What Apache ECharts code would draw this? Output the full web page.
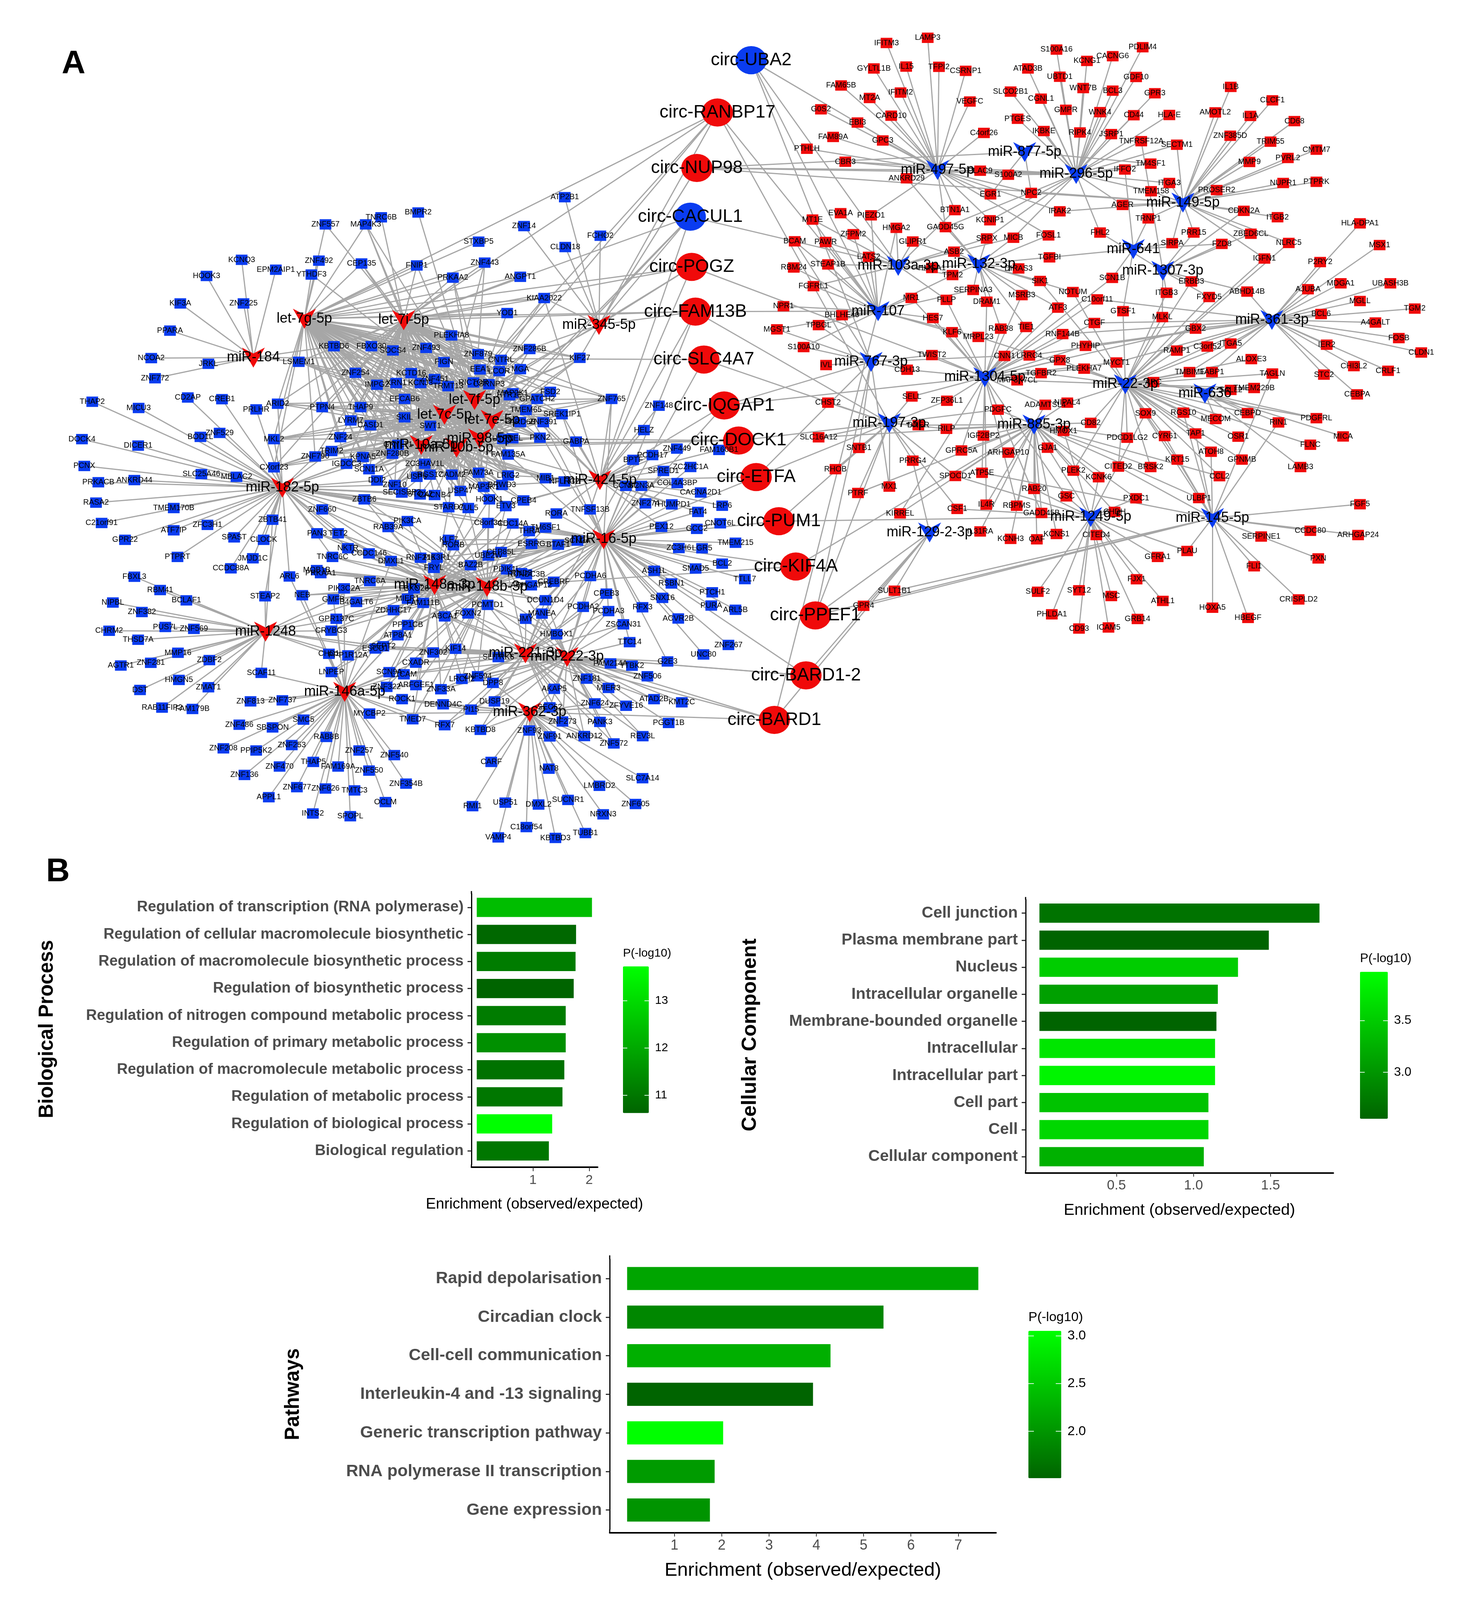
<!DOCTYPE html>
<html><head><meta charset="utf-8">
<style>html,body{margin:0;padding:0;background:#fff;overflow:hidden}#c{width:3761px}</style>
<script src="https://cdn.jsdelivr.net/npm/echarts@6/dist/echarts.min.js"></script>
</head><body><div id="c"></div>
<script>
// ---------- panel B data ----------
const bpCats=["Regulation of transcription (RNA polymerase)","Regulation of cellular macromolecule biosynthetic","Regulation of macromolecule biosynthetic process","Regulation of biosynthetic process","Regulation of nitrogen compound metabolic process","Regulation of primary metabolic process","Regulation of macromolecule metabolic process","Regulation of metabolic process","Regulation of biological process","Biological regulation"];
const bpEnrich=[2.05,1.767,1.758,1.725,1.583,1.583,1.558,1.525,1.342,1.283];
const bpP=[12.4,10.7,11.1,10.62,11.1,11.5,10.9,11.0,13.73,11.0];
const ccCats=["Cell junction","Plasma membrane part","Nucleus","Intracellular organelle","Membrane-bounded organelle","Intracellular","Intracellular part","Cell part","Cell","Cellular component"];
const ccEnrich=[1.818,1.489,1.289,1.158,1.149,1.14,1.14,1.097,1.097,1.067];
const ccP=[2.69,2.55,3.51,3.1,2.55,3.74,3.88,3.42,3.6,3.26];
const pwCats=["Rapid depolarisation","Circadian clock","Cell-cell communication","Interleukin-4 and -13 signaling","Generic transcription pathway","RNA polymerase II transcription","Gene expression"];
const pwEnrich=[7.425,5.42,4.3,3.93,2.03,1.85,1.75];
const pwP=[2.16,1.86,2.26,1.51,3.05,2.06,1.99];

// ---------- panel A: reading frames (x0,y0,w,h of the crop each list was read from; crop is 1568 units square) ----------
const frames={Z1:[0,0,1880,1200],Z2:[0,1200,1880,1150],Z3:[1880,0,1880,1000],Z4:[1880,900,1880,900],Z8:[700,950,784,560],Z9:[1300,950,784,560],Z10:[700,1500,784,560],Z11:[1300,1500,784,560]};
// "frame name x y code"
const redHubs=["Z1 let-7g-5p 650 1125 a","Z1 let-7i-5p 862 1130 b","Z8 let-7f-5p 1030 365 c","Z8 let-7c-5p 876 477 d","Z8 let-7e-5p 1120 515 e","Z8 miR-98-5p 1056 657 f","Z8 miR-10a-5p 757 706 g","Z8 miR-10b-5p 938 725 h","Z1 miR-184 541 1262 i","Z2 miR-182-5p 603 160 j","Z2 miR-1248 567 690 k","Z2 miR-146a-5p 736 912 l","Z2 miR-362-3p 1131 987 m","Z1 miR-345-5p 1279 1147 n","Z2 miR-148a-3p 928 518 o","Z2 miR-148b-3p 1040 525 p","Z2 miR-424-5p 1281 132 q","Z2 miR-16-5p 1289 350 r","Z2 miR-221-3p 1122 770 s","Z2 miR-222-3p 1211 783 t"];
const blueHubs=["Z3 miR-497-5p 434 720 u","Z3 miR-296-5p 730 737 v","Z3 miR-877-5p 620 644 w","Z3 miR-149-5p 958 858 x","Z3 miR-641 852 1055 y","Z3 miR-1307-3p 915 1147 z","Z3 miR-103a-3p 350 1126 A","Z3 miR-132-3p 522 1118 B","Z3 miR-107 307 1318 D","Z4 miR-767-3p 292 135 E","Z4 miR-1304-5p 535 207 G","Z4 miR-22-3p 835 240 H","Z4 miR-636 1005 284 I","Z3 miR-361-3p 1148 1355 J","Z4 miR-197-3p 331 423 K","Z4 miR-885-3p 640 430 M","Z4 miR-1249-5p 761 865 N","Z4 miR-145-5p 1021 870 O","Z4 miR-129-2-3p 417 938 P"];
// group shorthands: 1 let-7 family, 2 miR-10, 3 miR-148, 4 miR-424/16, 5 miR-221/222
const hubGroups={1:"abcdef",2:"gh",3:"op",4:"qr",5:"st"};
const redCircs=["Z1 circ-RANBP17 1532 397 abcdnDK","Z1 circ-NUP98 1488 593 uvwxn","Z1 circ-POGZ 1477 942 abncqG","Z1 circ-FAM13B 1485 1100 abnrqKD","Z1 circ-SLC4A7 1503 1269 iKr","Z9 circ-IQGAP1 1108 407 qrEG","Z9 circ-DOCK1 1182 672 fghK","Z9 circ-ETFA 1272 948 qErK","Z9 circ-PUM1 1388 1282 rNK","Z11 circ-KIF4A 1475 85 pMr","Z11 circ-PPEF1 1575 455 POKE","Z11 circ-BARD1-2 1527 908 strP","Z11 circ-BARD1 1365 1245 stmPD"];
const blueCircs=["Z3 circ-UBA2 36 255 uADE","Z1 circ-CACUL1 1474 765 nfebAq"];
const blueGenes=[
"Z1 ATP2B1 1206 696 n","Z1 BMPR2 893 750 c","Z1 TNRC6B 814 767 b","Z1 ZNF557 695 792 ab","Z1 MAP4K3 781 792 abcd","Z1 ZNF14 1119 798 n","Z1 FCHO2 1282 832 n","Z1 STXBP5 1022 853 a","Z1 CLDN18 1207 872 n","Z1 KCNQ3 516 917 i","Z1 ZNF492 681 920 a","Z1 EPM2AIP1 589 952 i","Z1 CEP135 772 930 abf","Z1 FNIP1 890 937 abc","Z1 ZNF443 1035 927 abcd","Z1 YTHDF3 665 969 ac","Z1 HOOK3 441 974 i","Z1 PRKAA2 967 980 abce","Z1 ANGPT1 1111 977 ab","Z1 KIAA2022 1162 1052 abcdqn","Z1 KIF3A 385 1071 i","Z1 ZNF225 520 1071 i","Z1 YOD1 1083 1105 abc","Z1 PPARA 363 1167 i","Z1 PLEKHA8 964 1184 1","Z1 KBTBD6 713 1222 i1","Z1 FBXO30 793 1222 1","Z1 SOCS4 839 1237 1","Z1 ZNF493 910 1228 1","Z1 ZNF286B 1131 1232 1n","Z1 ZNF879 1021 1250 1","Z1 NCOA2 323 1264 i","Z1 CNTRL 1070 1270 1","Z1 KIF27 1238 1263 1n","Z1 FIGN 948 1278 1","Z1 JRKL 445 1284 i","Z1 LSMEM1 638 1277 i1","Z1 ZNF772 331 1335 i","Z1 MGA 1111 1303 1n","Z1 EEA1 1025 1304 1","Z1 LCOR 1066 1310 1","Z1 ZNF254 759 1316 1","Z1 KCTD16 878 1317 1","Z1 ZNF451 928 1338 1","Z1 KCNJ3 898 1352 1","Z1 XRN1 846 1352 1","Z1 IMPG2 805 1358 1","Z1 TRMT13 957 1363 1","Z1 RICTOR 1011 1350 1","Z1 CSRNP3 1044 1356 1","Z1 MAP2K1 1095 1388 1","Z1 HTR1E 1088 1395 1","Z1 FSD2 1175 1383 1","Z1 GPATCH2 1147 1408 1","Z1 ZNF765 1306 1408 14","Z1 CD2AP 401 1403 j","Z1 CREB1 474 1409 j","Z1 THAP2 197 1418 j","Z1 MICU3 296 1440 j","Z1 PRLHR 547 1445 j","Z1 ARID2 593 1425 j1","Z1 PTPN4 688 1437 1","Z1 THAP9 770 1437 1","Z1 EFCAB6 864 1408 1","Z1 ZNF148 1407 1432 q","Z1 TMEM65 1123 1447 14","Z1 SREK1IP1 1200 1462 14","Z1 SKIL 864 1473 1","Z1 LYRM7 749 1484 1","Z1 CASD1 791 1501 1","Z1 SWT1 919 1503 1","Z1 PARD6B 1111 1490 12","Z1 ZNF391 1160 1490 14","Z1 HELZ 1375 1518 q","Z1 PKN2 1153 1545 12","Z1 ZNF529 469 1528 j","Z1 BOD1L 428 1542 j","Z1 MKL2 585 1550 j1","Z1 ZNF24 727 1543 12","Z1 DOCK4 175 1550 j",
"Z8 UTRN 1175 660 12","Z8 PCEL 1225 655 12","Z8 GXYLT1 638 705 12","Z9 GABPA 350 680 2q","Z9 ZNF449 866 733 q","Z9 FAM160B1 1082 743 q","Z9 PCDH17 741 782 q","Z9 BPTF 642 818 qs","Z9 ZC2HC1A 936 872 r","Z9 SPRED1 797 902 qr","Z9 COL4A3BP 868 994 q","Z9 CCNT2 605 1015 4","Z9 SCN3A 684 1015 4","Z9 CACNA2D1 988 1065 q","Z9 ZNF274 705 1147 4","Z9 THUMPD1 840 1155 4","Z9 LRP6 1098 1165 q","Z9 FAT4 974 1212 4","Z9 CNOT6L 1088 1298 r","Z9 PEX12 787 1325 4","Z9 GCC2 968 1340 r","Z9 TMEM215 1166 1445 r","Z9 ZC3H6 876 1485 r","Z9 LGR5 995 1487 r",
"Z2 TRIM2 708 25 j2","Z2 ZNF790 673 45 j1","Z2 KPNA5 775 47 j12","Z2 IGDCC3 740 72 j1","Z2 ZNF280B 838 35 j12","Z2 FAM135A 1085 38 124","Z2 DICER1 295 5 j","Z2 PCNX 180 80 j","Z2 CXorf23 585 85 j1","Z2 SCN11A 788 92 12","Z2 ZC3HAV1L 907 72 12","Z2 SLC25A46 430 110 j","Z2 MBLAC2 505 120 j","Z2 FAM73A 1022 105 12","Z2 LRIG2 1085 115 12q","Z2 CADM2 965 112 12","Z2 RGS17 918 112 12","Z2 USP6 890 120 12","Z2 PRKACB 210 140 j","Z2 ANKRD44 287 132 j","Z2 DDI2 805 133 j2","Z2 MIB1 1165 125 q2","Z2 NFLRC2 1205 137 q2","Z2 ZNF10 843 150 j12","Z2 BRWD3 1072 150 q2","Z2 MAP3K1 1033 157 12","Z2 USP47 983 172 12","Z2 SECISBP2 858 178 j2","Z2 STOX2 897 185 j2","Z2 CACNB4 928 187 j2","Z2 ZBTB6 778 203 j3","Z2 HOOK1 1045 203 23","Z2 CPEB4 1118 207 q2","Z2 RASA2 205 215 j","Z2 TMEM170B 371 235 j","Z2 ZNF660 688 240 j3","Z2 STARD7 958 232 j23","Z2 CUL5 1000 235 j23","Z2 ETV3 1080 228 q23","Z2 RORA 1188 255 4","Z2 TNFSF13B 1260 240 4","Z2 ZBTB41 582 278 jk","Z2 C21orf91 217 290 j","Z2 PIK3CA 870 283 j3","Z2 ATF7IP 371 317 j","Z2 ZFC3H1 443 297 j","Z2 RAB39A 829 305 j3","Z2 C8orf34 1042 290 j3r","Z2 CDC14A 1095 292 j3r","Z2 TM6SF1 1165 307 r3","Z2 THRA 1130 320 r3","Z2 SPAST 500 343 j","Z2 GPR22 267 352 j","Z2 CLOCK 563 352 j","Z2 PAN3 677 328 j3","Z2 TET2 722 328 j3","Z2 KLF7 958 352 3r","Z2 RORB 968 372 3r","Z2 ESRRG 1135 367 r3","Z2 BTAF1 1192 370 r3","Z2 SCN2A 1233 355 r3","Z2 NKTR 743 383 j3","Z2 CCDC146 788 402 3j","Z2 PTPRT 379 415 j","Z2 JMJD1C 540 420 j","Z2 TNRC6C 710 415 j3","Z2 DMXL1 835 430 3l","Z2 RNF216 898 418 3","Z2 PIK3R1 933 418 3r","Z2 UBE2W 1043 410 3r","Z2 CEP85L 1070 397 3r","Z2 CCDC88A 493 457 j",
"Z10 FRYL 822 95 3r","Z10 BAZ2B 1010 75 3r","Z10 PDIK1L 1195 107 3r5","Z10 RUNDC3B 1295 145 3r","Z10 RND3 1270 135 3r","Z10 ARL6 82 160 jl","Z10 MOB1B 222 112 3","Z10 PRKAA1 242 135 3","Z10 TNRC6A 494 195 3k","Z10 CREBRF 1435 200 3r","Z10 ARHGAP12 1320 227 3r","Z10 PIK3C2A 362 250 3l","Z10 FBXO28 720 250 3","Z10 NEB 148 302 3l","Z10 GMFB 307 333 3l","Z10 B4GALT6 425 353 3k","Z10 MIER1 687 328 3l","Z10 FAM111B 767 360 3s","Z10 DCUN1D4 1393 340 3r5","Z10 PCMTD1 1097 375 35","Z10 ZDHHC17 615 415 3k","Z10 ABCA1 877 462 35","Z10 FOXN2 997 440 35","Z10 MANEA 1375 441 r5","Z10 JMY 1292 480 r5","Z10 GPR137C 322 480 3l","Z10 PPP1CB 688 527 3l","Z10 CRYBG3 296 570 k3","Z10 ATP8A1 637 605 3l","Z10 HMBOX1 1450 597 3r5","Z10 ESCO1 522 705 k5","Z10 SEPT2 563 688 k5","Z10 CHD1 284 745 kl","Z10 PPP1R12A 382 757 kl3","Z10 ZNF302 818 735 k5","Z10 KIF14 933 707 s3","Z10 SLITRK6 1152 770 5","Z10 CXADR 729 812 l5","Z10 LNPEP 297 883 l3","Z10 SCN9A 593 884 l3","Z10 L1CAM 668 900 l5","Z10 ZNF594 1046 915 53","Z10 LRCH2 965 935 53","Z10 DPP8 1124 965 5m","Z10 ZNF322 580 995 l3","Z10 ARFGEF1 730 982 l3","Z10 ZNF33A 858 1013 35","Z10 AKAP5 1438 1010 5m","Z10 ROCK1 659 1088 lm","Z10 DENND4C 869 1127 lm","Z10 DUSP19 1132 1105 5m","Z10 PI15 1012 1167 lm5","Z10 MYCBP2 492 1197 lm","Z10 TMED7 713 1240 3l","Z10 RFX7 877 1285 l5","Z10 SMC5 154 1243 l","Z10 KBTBD8 1060 1320 m5","Z10 ZNF93 1310 1325 m","Z10 ZNF737 46 1097 l",
"Z11 PCDHA6 423 157 r5","Z11 ASH1L 750 117 r","Z11 SMAD5 962 100 r","Z11 BCL2 1098 63 r","Z11 TTLL7 1214 180 r","Z11 RSBN1 838 213 r","Z11 PTCH1 1047 280 r","Z11 CPEB3 505 290 r5","Z11 SNX16 792 322 r","Z11 PCDHA2 386 390 r5","Z11 PCDHA3 516 422 r5","Z11 RFX3 690 393 r","Z11 PURA 1042 380 r","Z11 ARL5B 1166 412 r","Z11 ACVR2B 873 478 r","Z11 ZSCAN31 592 522 r5","Z11 TTC14 624 657 rt","Z11 ZNF267 1130 678 r","Z11 UNC80 1002 750 r","Z11 G2E3 818 803 rt","Z11 FAM214A 526 818 5","Z11 TTBK2 636 835 5","Z11 ZNF506 715 915 5","Z11 ZNF181 404 933 5","Z11 MIER3 516 1003 5","Z11 ATAD2B 749 1088 5","Z11 KMT2C 891 1112 t","Z11 ZNF624 446 1120 5m","Z11 ZFYVE16 606 1138 tm","Z11 SEC62 215 1150 5m","Z11 ZNF273 280 1257 m5","Z11 PANK3 472 1260 5","Z11 PGGT1B 824 1268 t","Z11 ANKRD12 392 1367 m5","Z11 REV3L 691 1368 5","Z11 ZNF91 215 1370 m","Z11 ZNF572 543 1423 5m",
"Z2 FBXL3 287 488 k","Z2 RBM41 342 537 k","Z2 NIPBL 241 583 k","Z2 BCLAF1 398 575 k","Z2 STEAP2 566 560 kj","Z2 ZNF382 303 618 k","Z2 PUS7L 353 673 k","Z2 ZNF569 414 680 k","Z2 CHRM2 233 687 k","Z2 THSD7A 295 720 k","Z2 MMP16 380 768 k","Z2 ZDBF2 447 795 k","Z2 AGTR1 258 815 k","Z2 ZNF281 322 805 k","Z2 HMGN5 382 868 k","Z2 DST 299 905 k","Z2 ZMAT1 445 895 k","Z2 SCAF11 558 842 kl","Z2 RAB11FIP2 346 970 k","Z2 FAM179B 411 975 k","Z2 ZNF813 535 947 l","Z2 ZNF486 511 1033 l","Z2 SBSPON 582 1043 l","Z2 ZNF208 477 1120 l","Z2 PPIP5K2 547 1128 l","Z2 ZNF253 623 1108 l","Z2 RAB8B 697 1078 l","Z2 ZNF257 767 1128 l","Z2 ZNF540 842 1145 l","Z2 ZNF470 597 1187 l","Z2 THAP5 669 1170 l","Z2 FAM169A 722 1187 l","Z2 ZNF550 788 1202 l","Z2 ZNF136 522 1218 l","Z2 ZNF677 634 1263 l","Z2 ZNF626 695 1268 l","Z2 TMTC3 757 1275 l","Z2 ZNF354B 867 1250 l","Z2 APPL1 574 1300 l","Z2 OCLM 823 1318 l","Z2 INTS2 668 1360 l","Z2 SPOPL 748 1370 l",
"Z2 CARF 1049 1170 m","Z2 NAT8 1172 1195 m","Z2 SLC7A14 1372 1230 m","Z2 LMBRD2 1280 1258 m","Z2 RMI1 1009 1333 m","Z2 USP51 1079 1320 m","Z2 DMXL2 1150 1327 m","Z2 SUCNR1 1213 1310 m","Z2 ZNF605 1357 1325 m","Z2 NRXN3 1288 1363 m","Z2 C18orf54 1124 1410 m","Z2 VAMP4 1064 1448 m","Z2 KBTBD3 1186 1450 m","Z2 TUBB1 1250 1432 m"];
const redGenes=[
"Z3 LAMP3 413 160 u","Z3 IFITM3 325 182 u","Z3 PDLIM4 872 200 v","Z3 S100A16 688 210 v","Z3 CACNG6 808 238 v","Z3 KCNG1 753 258 v","Z3 GYLTL1B 298 290 u","Z3 IL15 367 282 u","Z3 TFPI2 437 283 u","Z3 CSRNP1 494 300 u","Z3 ATAD3B 627 290 v","Z3 UBTD1 695 325 v","Z3 GDF10 858 326 v","Z3 FAM65B 228 362 u","Z3 IFITM2 355 392 u","Z3 MT2A 289 415 u","Z3 SLCO2B1 590 388 v","Z3 WNT7B 745 373 v","Z3 BCL3 808 384 v","Z3 GPR3 898 395 v","Z3 CGNL1 655 418 v","Z3 VEGFC 503 430 u","Z3 IL1B 1060 368 x","Z3 CLCF1 1149 425 x","Z3 G0S2 185 463 u","Z3 CARD10 335 490 u","Z3 EBI3 263 519 u","Z3 GMPR 708 465 v","Z3 WNK4 781 475 v","Z3 CD44 853 488 v","Z3 HLA-E 929 487 v","Z3 AMOTL2 1027 476 x","Z3 IL1A 1102 491 x","Z3 CD68 1196 513 x","Z3 PTGES 605 503 v","Z3 IKBKE 661 555 v","Z3 RIPK4 738 561 v","Z3 JSRP1 805 568 v","Z3 C4orf26 533 563 u","Z3 ZNF385D 1059 575 x","Z3 FAM89A 211 580 u","Z3 GPC3 317 595 u","Z3 TRIM55 1145 600 x","Z3 TNFRSF12A 869 598 vz","Z3 SECTM1 945 613 vx","Z3 CMTM7 1243 634 x","Z3 PTHLH 155 630 u","Z3 CBR3 237 685 uv","Z3 TM4SF1 889 693 wv","Z3 MMP9 1100 686 x","Z3 PVRL2 1182 669 x","Z3 PLAC9 525 723 uv","Z3 S100A2 585 740 uv","Z3 IFFO2 834 718 vy","Z3 ANKRD29 368 755 uB","Z3 ITGA3 929 775 vx","Z3 NUPR1 1172 775 x","Z3 PTPRK 1243 770 x","Z3 PROSER2 1030 805 x","Z3 EGR1 547 823 uw","Z3 NPC2 634 817 uwx","Z3 TMEM158 890 810 xv","Z3 AGER 829 868 vx","Z3 CDKN2A 1088 893 xz","Z3 IRAK2 695 895 xu","Z3 BTN1A1 471 890 uA","Z3 ITGB2 1160 920 x","Z3 EVA1A 227 903 A","Z3 PIEZO1 292 912 uD","Z3 MT1E 167 930 AD","Z3 KCNIP1 546 933 uv","Z3 TRNP1 884 925 xy","Z3 HLA-DPA1 1336 946 J","Z3 HMGA2 346 965 AD","Z3 GADD45G 451 962 uvB","Z3 BCAM 129 1022 DE","Z3 PAWR 195 1025 AD","Z3 ZFPM2 254 992 D","Z3 GLIPR1 381 1023 AB","Z3 SRPX 539 1010 AvB","Z3 MICB 596 1007 AvB","Z3 FOSL1 671 997 uB","Z3 FHL2 781 985 vz","Z3 PRR15 981 985 xz","Z3 ZBED6CL 1103 990 xz","Z3 SIRPA 935 1030 yx","Z3 FZD8 1041 1033 yz","Z3 NLRC5 1184 1029 xH","Z3 MSX1 1378 1038 J","Z3 LATS2 287 1088 AD","Z3 ASB2 469 1066 AB","Z3 TGFBI 673 1090 yB","Z3 IGFN1 1132 1095 xH","Z3 P2RY2 1251 1110 J","Z3 RBM24 127 1133 D","Z3 STEAP1B 200 1120 DA","Z3 DIRAS3 607 1137 B","Z3 HMGA1 422 1135 AB","Z3 TPM2 466 1165 ABD","Z3 SIK1 653 1190 BH","Z3 ERBB3 976 1192 zH","Z3 SCN1B 807 1177 yG","Z3 MDGA1 1295 1200 J","Z3 UBASH3B 1401 1200 J","Z3 AJUBA 1225 1225 J","Z3 FGFRL1 169 1212 DA","Z3 SERPINA3 510 1228 DB","Z3 MSRB3 614 1250 BG","Z3 NOTUM 723 1237 BH","Z3 ITGB3 923 1240 zH","Z3 ABHD14B 1095 1235 Jz","Z3 C10orf11 775 1268 JG","Z3 FXYD5 1014 1258 zH","Z3 MGLL 1336 1275 J","Z3 NPR1 105 1297 D","Z3 MR1 378 1262 DG","Z3 PLLP 453 1270 GA","Z3 DRAM1 539 1278 GB","Z3 ATF3 691 1303 BG","Z3 GTSF1 830 1318 yH","Z3 TGM2 1453 1307 J","Z3 BCL6 1253 1330 J","Z3 BHLHE40 230 1335 D","Z3 HES7 424 1347 DG","Z3 MLKL 914 1343 zH","Z3 CTGF 769 1368 JG","Z3 TPBGL 180 1377 DE","Z3 A4GALT 1369 1366 J","Z3 GBX2 985 1392 JG","Z3 MGST1 91 1395 DE","Z3 TIE1 623 1385 BG","Z3 RAB38 569 1392 BG","Z3 KLF6 465 1407 DG","Z3 MRPL23 521 1427 DH","Z3 RNF144B 701 1415 GJ","Z3 FOSB 1419 1432 J","Z3 S100A10 148 1470 DE","Z3 PHYHIP 750 1465 JG","Z3 ITGA5 1060 1455 JH","Z3 IER2 1265 1460 J","Z3 RAMP1 945 1485 HJ","Z3 C3orf52 1010 1468 HJ","Z3 CLDN1 1467 1493 J",
"Z4 ALOXE3 1104 122 H","Z4 CHI3L2 1323 155 J","Z4 CRLF1 1396 177 J","Z4 TWIST2 422 103 EG","Z4 CNN1 577 107 EG","Z4 LRRC4 630 105 GJ","Z4 GPX8 695 127 HG","Z4 MYCT1 816 138 GJ","Z4 PLEKHA7 747 167 GH","Z4 IVL 196 150 E","Z4 CDH13 369 172 EG","Z4 TGFBR2 655 188 GH","Z4 TMBIM1 972 183 HJ","Z4 FABP1 1020 183 HJ","Z4 TAGLN 1149 190 HO","Z4 STC2 1259 195 J","Z4 MAP3K7CL 604 222 GH","Z4 ARC 895 230 HI","Z4 SALL2 1060 267 HI","Z4 TMEM229B 1110 258 HI","Z4 CEBPA 1330 288 J","Z4 SELL 379 298 KG","Z4 ZFP36L1 454 318 GK","Z4 CHST2 200 327 K","Z4 ADAMTSL4 664 337 GM","Z4 NIPAL4 711 327 HM","Z4 PDGFC 563 360 GKM","Z4 SOX9 878 377 HN","Z4 RGS10 959 374 HO","Z4 MECOM 1028 404 HI","Z4 CEBPD 1096 376 HI","Z4 PDGFRL 1243 400 HI","Z4 RIN1 1162 420 IO","Z4 CD82 761 422 MH","Z4 DNER 393 433 KM","Z4 RILP 453 450 KM","Z4 HMOX1 703 460 MN","Z4 IGF2BP2 532 482 MG","Z4 SLC16A12 180 490 KM","Z4 PDCD1LG2 839 492 HM","Z4 CYR61 919 484 HO","Z4 TAP1 985 472 HO","Z4 OSR1 1076 487 H","Z4 MICA 1300 486 I","Z4 SNTB1 266 540 KE","Z4 GPRC5A 485 552 MG","Z4 ARHGAP10 585 562 M","Z4 GJA1 669 539 MN","Z4 ATOH8 1018 558 HO","Z4 FLNC 1230 525 H","Z4 PRRG4 381 600 KP","Z4 KRT15 946 595 HO","Z4 GPNMB 1084 595 H","Z4 BRSK2 889 630 HM","Z4 CITED2 820 628 HO","Z4 PLEK2 724 647 MH","Z4 LAMB3 1209 630 I","Z4 ATP5E 529 657 GO","Z4 SPOCD1 472 672 KNM","Z4 KCNK6 778 678 MN","Z4 CCL2 1036 673 HM","Z4 MX1 331 722 KE","Z4 RAB20 640 733 MN","Z4 PTRF 264 752 MK","Z4 RHOB 216 640 K","Z4 GSC 709 768 NG","Z4 PXDC1 858 777 MN","Z4 ULBP1 992 776 HMO","Z4 CSF1 476 827 KN","Z4 IL4R 538 807 MG","Z4 RBPMS 603 812 MG","Z4 GADD45B 656 846 MG","Z4 CHDH 812 841 NM","Z4 KIRREL 354 848 MG","Z4 FGF5 1336 805 O","Z4 CCDC80 1230 930 O","Z4 ARHGAP24 1332 950 O","Z4 SERPINE1 1125 957 O","Z4 CITED4 773 950 N","Z4 IL31RA 525 933 M","Z4 KCNS1 688 945 M","Z4 KCNH3 590 968 M","Z4 OAF 646 970 M","Z4 PXN 1247 1060 O","Z4 PLAU 967 1025 NO","Z4 GFRA1 904 1053 N","Z4 FLI1 1110 1097 O","Z4 FJX1 859 1158 N","Z4 SULT1B1 342 1212 PO","Z4 CRISPLD2 1205 1253 O","Z4 SULF2 648 1217 N","Z4 SYT12 736 1210 N","Z4 MSC 805 1237 N","Z4 ATHL1 915 1260 N","Z4 GPR4 276 1283 PO","Z4 HOXA5 1021 1292 O","Z4 PHLDA1 678 1323 N","Z4 HBEGF 1097 1340 O","Z4 GRB14 861 1345 N","Z4 CD93 736 1390 N","Z4 ICAM5 799 1385 N"];

// ---------- layout: the window may be shorter than the 4322 design height, keep all panels visible ----------
const DESIGN_H=4322;
const H=Math.min(window.innerHeight||DESIGN_H,DESIGN_H), KY=H/DESIGN_H;
document.getElementById('c').style.height=H+'px';

// ---------- build graph ----------
const RED='#f00a0a',BLUE='#0a3cf0',GREY='#a6a6a6',FONT='"Liberation Sans",Arial,sans-serif';
const ARROW='path://M0 0L29.5 16L59 0L29.5 54Z';
const nodes=[],links=[],hubId={};
function parse(s){const p=s.split(' ');const f=frames[p[0]];return {name:p[1],x:f[0]+(+p[2])*f[2]/1568,y:f[1]+(+p[3])*f[3]/1568,code:p[4]};}
function add(list,kind,color){list.forEach(s=>{const n=parse(s),id='n'+nodes.length;
  const st={gene:{symbol:'rect',symbolSize:[30,28*KY],font:20},hub:{symbol:ARROW,symbolSize:[59,54*KY],font:36},circ:{symbol:'circle',symbolSize:[80,76*KY],font:46}}[kind];
  nodes.push({id,name:n.name,value:[n.x,n.y],symbol:st.symbol,symbolSize:st.symbolSize,itemStyle:{color,opacity:1},
    label:{show:true,position:'inside',formatter:'{b}',color:'#000',fontFamily:FONT,fontSize:st.font}});
  if(kind==='hub') hubId[n.code]=id; else n.code.split('').forEach(c=>(hubGroups[c]||c).split('').forEach(h=>links.push([id,h])));
});}
add(blueGenes,'gene',BLUE);add(redGenes,'gene',RED);
add(redHubs,'hub',RED);add(blueHubs,'hub',BLUE);
add(redCircs,'circ',RED);add(blueCircs,'circ',BLUE);
const graphLinks=links.filter(l=>hubId[l[1]]).map(l=>({source:l[0],target:hubId[l[1]]}));

// ---------- bar panels ----------
const panels=[
 {cats:bpCats,enrich:bpEnrich,p:bpP,title:'Biological Process',titleSize:51,titleGap:1061,spine:[1207,2407,3153],right:1530,top:2414.5,h:731,zero:1220.6,unit:143.9,ticks:[1,2],fmt:v=>String(v),barH:52,labelSize:38.5,tickSize:34,nameSize:38.5,nameGap:76,
  lg:{x:1595,w:66,y0:2610.6,y1:3006.7,max:13.73,min:10.62,ticks:[11,12,13],fmt:v=>String(v),ty:2575,size:30}},
 {cats:ccCats,enrich:ccEnrich,p:ccP,title:'Cellular Component',titleSize:52,titleGap:679,spine:[2625.8,2423,3168],right:3413.5,top:2430,h:731,zero:2661.2,unit:394.4,ticks:[0.5,1,1.5],fmt:v=>v.toFixed(1),barH:52,labelSize:41,tickSize:35,nameSize:41,nameGap:76,
  lg:{x:3482,w:71,y0:2625,y1:3022,max:3.97,min:2.55,ticks:[3,3.5],fmt:v=>v.toFixed(1),ty:2590,size:32}},
 {cats:pwCats,enrich:pwEnrich,p:pwP,title:'Pathways',titleSize:51,titleGap:785,spine:[1561,3391,4140],right:2550,top:3401.5,h:729.6,zero:1605.6,unit:121.1,ticks:[1,2,3,4,5,6,7],fmt:v=>String(v),barH:62.4,labelSize:43,tickSize:36,nameSize:49,nameGap:72,
  lg:{x:2633,w:84,y0:3595,y1:3993,max:3.05,min:1.51,ticks:[2,2.5,3],fmt:v=>v.toFixed(1),ty:3559,size:34}}
];
const grid=[{left:0,top:0,width:3761,height:H}],xAxis=[{type:'value',gridIndex:0,min:0,max:3761,show:false}],yAxis=[{type:'value',gridIndex:0,min:0,max:DESIGN_H,inverse:true,show:false}];
const series=[{type:'graph',coordinateSystem:'cartesian2d',xAxisIndex:0,yAxisIndex:0,layout:'none',animation:false,silent:true,data:nodes,links:graphLinks,
  edgeSymbol:['none','none'],lineStyle:{color:GREY,width:3,opacity:1,curveness:0},labelLayout:{hideOverlap:false},z:2}];
const visualMap=[],graphicEls=[];
panels.forEach((P)=>{
  const gi=grid.length,si=series.length,top=P.top*KY,h=P.h*KY,off=(P.spine[2]-(P.top+P.h))*KY;
  grid.push({left:P.spine[0],top,width:P.right-P.spine[0],height:h});
  xAxis.push({type:'value',gridIndex:gi,min:(P.spine[0]-P.zero)/P.unit,max:(P.right-P.zero)/P.unit,offset:off,
    splitLine:{show:false},axisLine:{show:true,onZero:false,lineStyle:{color:'#000',width:4}},
    axisTick:{show:true,customValues:P.ticks,length:10,lineStyle:{color:'#333',width:2}},
    axisLabel:{customValues:P.ticks,formatter:P.fmt,color:'#4d4d4d',fontFamily:FONT,fontSize:P.tickSize,margin:16},
    name:'Enrichment (observed/expected)',nameLocation:'middle',nameGap:P.nameGap,nameTextStyle:{color:'#000',fontFamily:FONT,fontSize:P.nameSize}});
  yAxis.push({type:'category',gridIndex:gi,data:P.cats,inverse:true,
    axisLine:{show:true,onZero:false,lineStyle:{color:'#000',width:3}},
    axisTick:{show:true,alignWithLabel:true,length:10,lineStyle:{color:'#333',width:3}},
    axisLabel:{color:'#4d4d4d',fontFamily:FONT,fontWeight:'bold',fontSize:P.labelSize,margin:20},
    name:P.title,nameLocation:'middle',nameGap:P.titleGap,nameRotate:90,nameTextStyle:{color:'#000',fontFamily:FONT,fontWeight:'bold',fontSize:P.titleSize}});
  series.push({type:'bar',xAxisIndex:gi,yAxisIndex:gi,barWidth:P.barH*KY,animation:false,silent:true,encode:{x:0,y:1},
    data:P.cats.map((c,k)=>[P.enrich[k],c,P.p[k]])});
  const ly0=P.lg.y0*KY,ly1=P.lg.y1*KY;
  visualMap.push({type:'continuous',seriesIndex:si,dimension:2,min:P.lg.min,max:P.lg.max,inRange:{color:['#006400','#00ff00']},
    left:P.lg.x,top:ly0,itemWidth:P.lg.w,itemHeight:ly1-ly0,padding:0,text:null,calculable:false,showLabel:false,hoverLink:false,z:1});
  // legend scale: a real axis over the colour bar
  const lgi=grid.length,d=Math.round(P.lg.w/6);
  grid.push({left:P.lg.x,top:ly0,width:P.lg.w,height:ly1-ly0});
  xAxis.push({type:'value',gridIndex:lgi,show:false,min:0,max:1});
  yAxis.push({type:'value',gridIndex:lgi,position:'right',min:P.lg.min,max:P.lg.max,z:6,
    axisLine:{show:false},axisTick:{show:false,customValues:P.lg.ticks},
    splitLine:{show:true,lineStyle:{color:'#d8f5e0',width:2,type:[d,P.lg.w-2*d,d]}},
    axisLabel:{customValues:P.lg.ticks,formatter:P.lg.fmt,color:'#000',fontFamily:FONT,fontSize:P.lg.size,margin:16}});
  series.push({type:'scatter',xAxisIndex:lgi,yAxisIndex:lgi,data:[],silent:true});
  graphicEls.push({type:'text',left:P.lg.x,top:P.lg.ty*KY-P.lg.size/2,z:10,style:{text:'P(-log10)',fill:'#000',font:P.lg.size+'px '+FONT}});
  graphicEls.push({type:'line',z:10,shape:{x1:P.spine[0],y1:P.spine[1]*KY,x2:P.spine[0],y2:top},style:{stroke:'#000',lineWidth:3}});
  graphicEls.push({type:'line',z:10,shape:{x1:P.spine[0],y1:top+h,x2:P.spine[0],y2:P.spine[2]*KY},style:{stroke:'#000',lineWidth:3}});
});
graphicEls.push({type:'text',left:158,top:130*KY,z:10,style:{text:'A',fill:'#000',font:'bold 84px '+FONT}});
graphicEls.push({type:'text',left:118,top:2312*KY,z:10,style:{text:'B',fill:'#000',font:'bold 84px '+FONT}});

const chart=echarts.init(document.getElementById('c'),null,{renderer:'canvas',width:3761,height:H});
chart.setOption({animation:false,backgroundColor:'#fff',tooltip:{show:false},grid,xAxis,yAxis,visualMap,series,graphic:{elements:graphicEls}});
</script></body></html>
